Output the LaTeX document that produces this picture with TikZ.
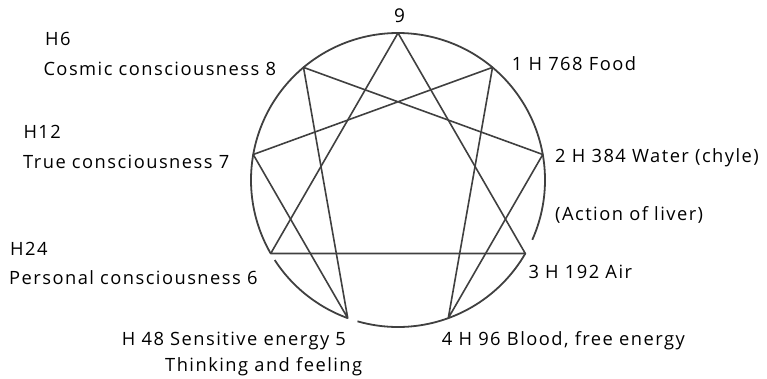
\documentclass[tikz,border=0pt]{standalone}
\usepackage{fontspec}
\setmainfont{Open Sans}[LetterSpace=8]
\begin{document}
\begin{tikzpicture}[x=1pt,y=-1pt,
  ring/.style={draw=black!75, line width=1.8pt},
  chord/.style={draw=black!75, line width=1.6pt, line join=round},
  lab/.style={anchor=base west, inner sep=0pt, font=\fontsize{18.3}{21}\selectfont, text=black}]
\useasboundingbox (0,0) rectangle (767,378);
\coordinate (c) at (398,180);
\foreach \k in {0,...,8}
  \coordinate (p\k) at ({398+147*cos(90-40*\k)},{180-147*sin(90-40*\k)});
% circle with small gaps
\draw[ring] plot[domain=213:250, samples=60] ({398+147*cos(\x)},{180-147*sin(\x)});
\draw[ring] plot[domain=254:330, samples=100] ({398+147*cos(\x)},{180-147*sin(\x)});
\draw[ring] plot[domain=336:570, samples=250] ({398+147*cos(\x)},{180-147*sin(\x)});
% triangle and hexad
\draw[chord] (p0) -- (p3) -- (p6) -- cycle;
\draw[chord] (p1) -- (p4) -- (p2) -- (p8) -- (p5) -- (p7) -- cycle;
% labels
\node[lab, anchor=base, font=\fontsize{19}{22}\selectfont] (t9) at (399.5,22.3) {9};
\node[lab] (h6) at (45,45) {H6};
\node[lab] (t8) at (43.3,75) {Cosmic consciousness 8};
\node[lab] (h12) at (23.3,138) {H12};
\node[lab] (t7) at (23,168.3) {True consciousness 7};
\node[lab] (h24) at (10,255) {H24};
\node[lab] (t6) at (9,284) {Personal consciousness 6};
\node[lab] (t5) at (121.7,345) {H 48 Sensitive energy 5};
\node[lab] (t5b) at (165,371.7) {Thinking and feeling};
\node[lab] (t1) at (511.7,70) {1 H 768 Food};
\node[lab] (t2) at (555,162.7) {2 H 384 Water (chyle)};
\node[lab] (t2b) at (555,220) {(Action of liver)};
\node[lab] (t3) at (528.3,278.3) {3 H 192 Air};
\node[lab] (t4) at (441.7,345) {4 H 96 Blood, free energy};
\end{tikzpicture}
\end{document}
